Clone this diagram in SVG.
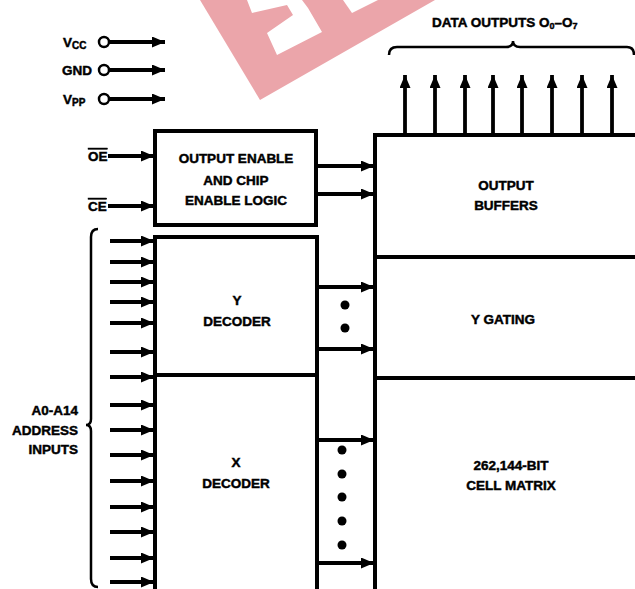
<svg xmlns="http://www.w3.org/2000/svg" width="635" height="589" viewBox="0 0 635 589">
<defs>
<marker id="ah" markerWidth="13" markerHeight="11" refX="13" refY="5.5" orient="auto" markerUnits="userSpaceOnUse"><path d="M0,0 L13,5.5 L0,11 z" fill="#000"/></marker>
</defs>
<style>
text{font-family:"Liberation Sans",Arial,sans-serif;font-weight:bold;font-size:13.5px;fill:#000;stroke:#000;stroke-width:0.45}
.c{text-anchor:middle}
.r{text-anchor:end}
.box{fill:none;stroke:#000;stroke-width:4}
.ln{stroke:#000;stroke-width:4;fill:none}
.ar{stroke:#000;stroke-width:3.8;fill:none;marker-end:url(#ah)}
.br{stroke:#000;stroke-width:2.5;fill:none}
.pin{fill:#fff;stroke:#000;stroke-width:2.5}
.ol{text-decoration:overline}
</style>
<rect width="635" height="589" fill="#fff"/>
<g id="watermark">
<polygon points="200,0 260,100 435,0" fill="#eba5aa"/>
<polygon points="247,0 252,13 287,5 293,15 267,33 277,55 322,32 308,8 302,0" fill="#fff"/>
<polygon points="343,0 352,13 378,0" fill="#fff"/>
</g>
<g id="power">
<text x="63" y="47">V<tspan font-size="10" dy="2">CC</tspan></text>
<text x="62" y="75">GND</text>
<text x="63" y="104">V<tspan font-size="10" dy="2">PP</tspan></text>
<circle class="pin" cx="104" cy="42" r="5"/>
<circle class="pin" cx="104" cy="70" r="5"/>
<circle class="pin" cx="104" cy="99" r="5"/>
</g>
<g id="control-labels">
<text x="88" y="161" class="ol">OE</text>
<text x="88" y="211" class="ol">CE</text>
</g>
<g id="oe-logic">
<rect class="box" x="155" y="131" width="161" height="94"/>
<text class="c" x="236" y="163">OUTPUT ENABLE</text>
<text class="c" x="236" y="185">AND CHIP</text>
<text class="c" x="236" y="205">ENABLE LOGIC</text>
</g>
<g id="y-decoder">
<path class="ln" d="M155,237 H317 V375 H155 Z"/>
<text class="c" x="237" y="305">Y</text>
<text class="c" x="237" y="326">DECODER</text>
</g>
<g id="x-decoder">
<path class="ln" d="M155,589 V375 H317 V589"/>
<text class="c" x="236" y="467">X</text>
<text class="c" x="236" y="488">DECODER</text>
</g>
<g id="output-buffers">
<path class="ln" d="M635,135 H375 V257 H635"/>
<text class="c" x="506" y="190">OUTPUT</text>
<text class="c" x="506" y="210">BUFFERS</text>
</g>
<g id="y-gating">
<path class="ln" d="M375,257 V378 H635"/>
<text class="c" x="503" y="324">Y GATING</text>
</g>
<g id="cell-matrix">
<path class="ln" d="M375,378 V589"/>
<text class="c" x="511" y="470">262,144-BIT</text>
<text class="c" x="511" y="490">CELL MATRIX</text>
</g>
<g id="data-outputs-label">
<text x="432" y="27" font-size="13">DATA OUTPUTS O<tspan font-size="9" dy="2">0</tspan><tspan dy="-2">–O</tspan><tspan font-size="9" dy="2">7</tspan></text>
<path class="br" d="M389,55 Q389,47 397,47 H506 Q513,47 513,41 Q513,47 520,47 H627 Q634,47 634,55"/>
</g>
<g id="address-label">
<text class="r" x="78" y="415">A0-A14</text>
<text class="r" x="78" y="435">ADDRESS</text>
<text class="r" x="78" y="454">INPUTS</text>
<path class="br" d="M98,229 Q91,229 91,237 V419 Q91,425 86,425 Q91,425 91,431 V579 Q91,587 98,587"/>
</g>
<g id="connectors">
<line class="ar" x1="109" y1="42" x2="165" y2="42"/>
<line class="ar" x1="109" y1="70" x2="165" y2="70"/>
<line class="ar" x1="109" y1="99" x2="165" y2="99"/>
<line class="ar" x1="108" y1="156" x2="154" y2="156"/>
<line class="ar" x1="108" y1="206" x2="154" y2="206"/>
<line class="ar" x1="318" y1="166" x2="374" y2="166"/>
<line class="ar" x1="318" y1="194" x2="374" y2="194"/>
<line class="ar" x1="405" y1="134" x2="405" y2="75"/>
<line class="ar" x1="435" y1="134" x2="435" y2="75"/>
<line class="ar" x1="465" y1="134" x2="465" y2="75"/>
<line class="ar" x1="493" y1="134" x2="493" y2="75"/>
<line class="ar" x1="522" y1="134" x2="522" y2="75"/>
<line class="ar" x1="552" y1="134" x2="552" y2="75"/>
<line class="ar" x1="582" y1="134" x2="582" y2="75"/>
<line class="ar" x1="612" y1="134" x2="612" y2="75"/>
<line class="ar" x1="110" y1="241" x2="154" y2="241"/>
<line class="ar" x1="110" y1="262" x2="154" y2="262"/>
<line class="ar" x1="110" y1="282" x2="154" y2="282"/>
<line class="ar" x1="110" y1="302" x2="154" y2="302"/>
<line class="ar" x1="110" y1="323" x2="154" y2="323"/>
<line class="ar" x1="110" y1="352" x2="154" y2="352"/>
<line class="ar" x1="110" y1="377" x2="154" y2="377"/>
<line class="ar" x1="110" y1="405" x2="154" y2="405"/>
<line class="ar" x1="110" y1="430" x2="154" y2="430"/>
<line class="ar" x1="110" y1="455" x2="154" y2="455"/>
<line class="ar" x1="110" y1="481" x2="154" y2="481"/>
<line class="ar" x1="110" y1="507" x2="154" y2="507"/>
<line class="ar" x1="110" y1="532" x2="154" y2="532"/>
<line class="ar" x1="110" y1="558" x2="154" y2="558"/>
<line class="ar" x1="110" y1="582" x2="154" y2="582"/>
<line class="ar" x1="318" y1="287" x2="374" y2="287"/>
<line class="ar" x1="318" y1="349" x2="374" y2="349"/>
<line class="ar" x1="318" y1="440" x2="374" y2="440"/>
<line class="ar" x1="318" y1="563" x2="374" y2="563"/>
<circle cx="345" cy="305" r="4.5"/>
<circle cx="345" cy="328" r="4.5"/>
<circle cx="342" cy="450" r="4.5"/>
<circle cx="342" cy="474" r="4.5"/>
<circle cx="342" cy="497" r="4.5"/>
<circle cx="342" cy="521" r="4.5"/>
<circle cx="342" cy="545" r="4.5"/>
</g>
</svg>
